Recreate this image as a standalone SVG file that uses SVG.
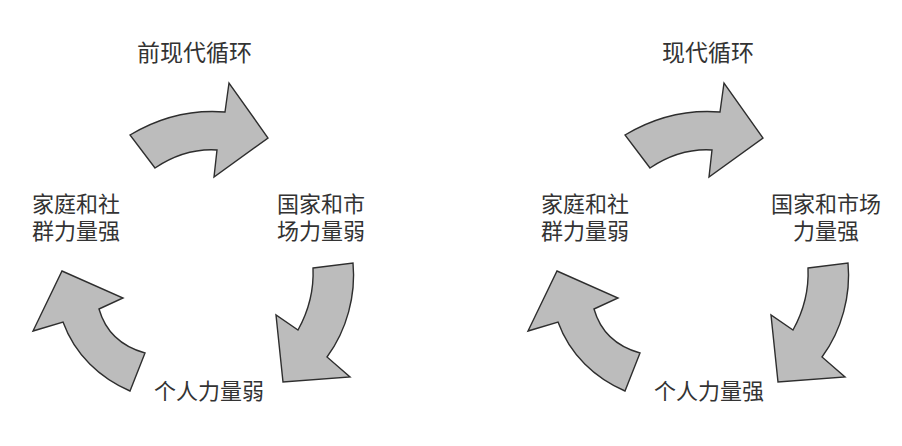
<svg xmlns="http://www.w3.org/2000/svg" width="902" height="446" viewBox="0 0 902 446">
<style>
.t{font-family:"Noto Sans CJK SC","Noto Sans CJK JP",sans-serif;font-size:22px;fill:#333}
.h{font-size:23px}
.a{fill:#bcbcbc;stroke:#2e2e2e;stroke-width:1.4;stroke-linejoin:miter}
</style>
<defs>
<path id="arA" d="M130,135 Q175,108 225,112 L229,83 L268,138 L214,177 L217,150 Q185,148 155,168 Z"/>
<path id="arB" d="M313,268 L353,263 C356,295 347,330 327,357 L350,377 L283,382 L276,315 L298,330 C308,312 314,290 313,268 Z"/>
<path id="arC" d="M62,271 L123,298 L99,309 C105,330 120,346 145,353 L130,391 C100,378 75,355 63,322 L33,331 Z"/>
</defs>
<rect width="902" height="446" fill="#fff"/>
<g id="connectors">
<use href="#arA" class="a"/>
<use href="#arB" class="a"/>
<use href="#arC" class="a"/>
<use href="#arA" class="a" transform="translate(495,0)"/>
<use href="#arB" class="a" transform="translate(495,0)"/>
<use href="#arC" class="a" transform="translate(495,0)"/>
</g>
<g id="title-left"><text class="t h" x="137" y="61">前现代循环</text></g>
<g id="family-left"><text class="t" x="32" y="212">家庭和社</text><text class="t" x="32" y="239">群力量强</text></g>
<g id="state-left"><text class="t" x="277" y="212">国家和市</text><text class="t" x="277" y="239">场力量弱</text></g>
<g id="individual-left"><text class="t" x="154" y="399">个人力量弱</text></g>
<g id="title-right"><text class="t h" x="662" y="61">现代循环</text></g>
<g id="family-right"><text class="t" x="541" y="212">家庭和社</text><text class="t" x="541" y="239">群力量弱</text></g>
<g id="state-right"><text class="t" x="771" y="212">国家和市场</text><text class="t" x="793" y="239">力量强</text></g>
<g id="individual-right"><text class="t" x="654" y="399">个人力量强</text></g>
</svg>
